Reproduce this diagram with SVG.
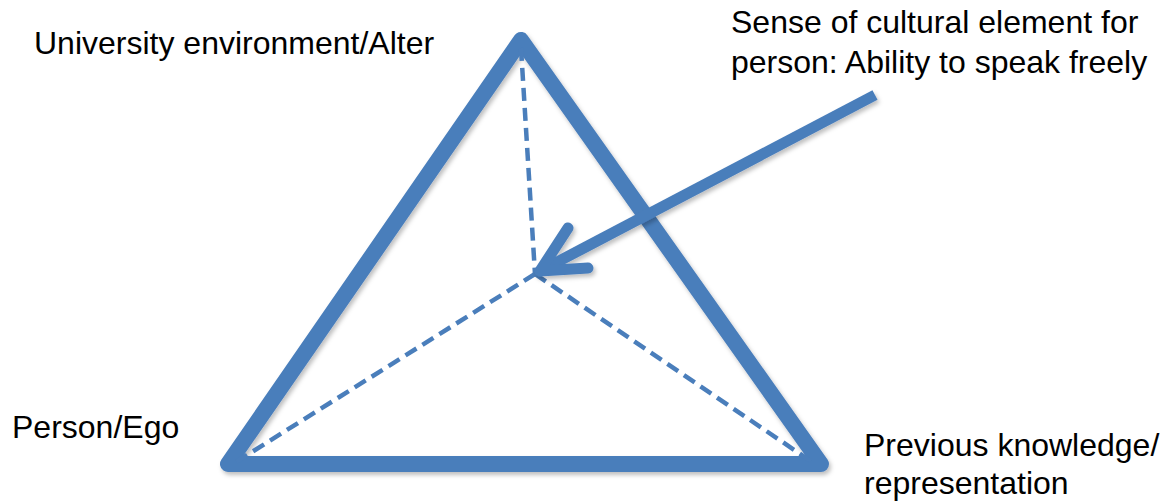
<svg xmlns="http://www.w3.org/2000/svg" width="1170" height="501" viewBox="0 0 1170 501">
<defs>
<style>
.lbl{font-family:"Liberation Sans",Arial,sans-serif;font-size:32px;fill:#000}
.tri{fill:none;stroke:#4a7ebb;stroke-width:16;stroke-linejoin:round;stroke-linecap:round}
.dash{fill:none;stroke:#4a7ebb;stroke-width:4.5;stroke-dasharray:13 7}
.arr{fill:none;stroke:#4a7ebb;stroke-width:11;stroke-linejoin:round}
</style>
<filter id="sh" x="-10%" y="-10%" width="120%" height="120%">
<feDropShadow dx="2" dy="3" stdDeviation="2" flood-color="#000" flood-opacity="0.25"/>
</filter>
</defs>
<rect width="1170" height="501" fill="#fff"/>
<g id="triangle" filter="url(#sh)">
<polygon class="tri" points="521,40 228,464 821,464"/>
</g>
<g id="connectors">
<line class="dash" x1="521" y1="48" x2="535" y2="274"/>
<line class="dash" x1="535" y1="274" x2="236" y2="462"/>
<line class="dash" x1="535" y1="274" x2="812" y2="462"/>
<g filter="url(#sh)">
<line class="arr" x1="875" y1="95" x2="542" y2="270" stroke-linecap="butt"/>
<polyline class="arr" points="568,228 540,271 588,268" stroke-linecap="round"/>
</g>
</g>
<g id="node-alter"><text class="lbl" x="34" y="54">University environment/Alter</text></g>
<g id="node-sense"><text class="lbl" x="731" y="33">Sense of cultural element for</text><text class="lbl" x="731" y="73">person: Ability to speak freely</text></g>
<g id="node-ego"><text class="lbl" x="12" y="438">Person/Ego</text></g>
<g id="node-knowledge"><text class="lbl" x="864" y="456">Previous knowledge/</text><text class="lbl" x="864" y="494">representation</text></g>
</svg>
